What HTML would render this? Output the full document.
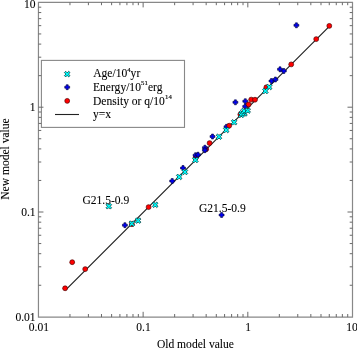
<!DOCTYPE html>
<html><head><meta charset="utf-8"><style>
html,body{margin:0;padding:0;background:#fff;width:357px;height:348px;overflow:hidden}
svg{display:block;will-change:transform;filter:blur(0.35px)}
text{font-family:"Liberation Serif",serif}
</style></head><body>
<svg width="357" height="348" viewBox="0 0 357 348" font-family="Liberation Serif, serif" font-size="12.1" fill="#000">
<style>text{stroke:#000;stroke-width:0.08px}</style>
<path d="M38.45 2.4H352.5V317.1H38.45Z" fill="none" stroke="#888" stroke-width="1.2"/>
<text transform="translate(35.60 8.30) scale(0.955 1)" text-anchor="end">10</text>
<text transform="translate(35.60 111.40) scale(0.955 1)" text-anchor="end">1</text>
<text transform="translate(35.60 216.20) scale(0.955 1)" text-anchor="end">0.1</text>
<text transform="translate(35.60 321.00) scale(0.955 1)" text-anchor="end">0.01</text>
<text transform="translate(351.90 331.40) scale(0.955 1)" text-anchor="middle">10</text>
<text transform="translate(248.22 331.40) scale(0.955 1)" text-anchor="middle">1</text>
<text transform="translate(143.53 331.40) scale(0.955 1)" text-anchor="middle">0.1</text>
<text transform="translate(38.85 331.40) scale(0.955 1)" text-anchor="middle">0.01</text>
<text transform="translate(195.40 347.80) scale(0.955 1)" text-anchor="middle">Old model value</text>
<text transform="translate(8.70 159.00) rotate(-90) scale(0.955 1)" text-anchor="middle">New model value</text>
<line x1="65.5" y1="290.2" x2="329.3" y2="26.4" stroke="#222" stroke-width="1.2"/>
<text transform="translate(82.40 203.90) scale(0.955 1)">G21.5-0.9</text>
<text transform="translate(198.90 211.90) scale(0.955 1)">G21.5-0.9</text>
<circle cx="206.2" cy="149.2" r="2.45" fill="#f00" stroke="#500" stroke-width="0.7"/>
<circle cx="195.6" cy="157.6" r="2.45" fill="#f00" stroke="#500" stroke-width="0.7"/>
<path d="M295.40 22.85L297.40 22.85L297.40 24.30L298.85 24.30L298.85 26.30L297.40 26.30L297.40 27.75L295.40 27.75L295.40 26.30L293.95 26.30L293.95 24.30L295.40 24.30Z" fill="#0000f4" stroke="#003" stroke-width="0.6"/>
<path d="M279.00 66.85L281.00 66.85L281.00 68.30L282.45 68.30L282.45 70.30L281.00 70.30L281.00 71.75L279.00 71.75L279.00 70.30L277.55 70.30L277.55 68.30L279.00 68.30Z" fill="#0000f4" stroke="#003" stroke-width="0.6"/>
<path d="M282.80 68.55L284.80 68.55L284.80 70.00L286.25 70.00L286.25 72.00L284.80 72.00L284.80 73.45L282.80 73.45L282.80 72.00L281.35 72.00L281.35 70.00L282.80 70.00Z" fill="#0000f4" stroke="#003" stroke-width="0.6"/>
<path d="M270.50 78.55L272.50 78.55L272.50 80.00L273.95 80.00L273.95 82.00L272.50 82.00L272.50 83.45L270.50 83.45L270.50 82.00L269.05 82.00L269.05 80.00L270.50 80.00Z" fill="#0000f4" stroke="#003" stroke-width="0.6"/>
<path d="M274.40 77.05L276.40 77.05L276.40 78.50L277.85 78.50L277.85 80.50L276.40 80.50L276.40 81.95L274.40 81.95L274.40 80.50L272.95 80.50L272.95 78.50L274.40 78.50Z" fill="#0000f4" stroke="#003" stroke-width="0.6"/>
<path d="M234.40 99.85L236.40 99.85L236.40 101.30L237.85 101.30L237.85 103.30L236.40 103.30L236.40 104.75L234.40 104.75L234.40 103.30L232.95 103.30L232.95 101.30L234.40 101.30Z" fill="#0000f4" stroke="#003" stroke-width="0.6"/>
<path d="M244.30 98.75L246.30 98.75L246.30 100.20L247.75 100.20L247.75 102.20L246.30 102.20L246.30 103.65L244.30 103.65L244.30 102.20L242.85 102.20L242.85 100.20L244.30 100.20Z" fill="#0000f4" stroke="#003" stroke-width="0.6"/>
<path d="M244.20 104.05L246.20 104.05L246.20 105.50L247.65 105.50L247.65 107.50L246.20 107.50L246.20 108.95L244.20 108.95L244.20 107.50L242.75 107.50L242.75 105.50L244.20 105.50Z" fill="#0000f4" stroke="#003" stroke-width="0.6"/>
<path d="M225.50 124.35L227.50 124.35L227.50 125.80L228.95 125.80L228.95 127.80L227.50 127.80L227.50 129.25L225.50 129.25L225.50 127.80L224.05 127.80L224.05 125.80L225.50 125.80Z" fill="#0000f4" stroke="#003" stroke-width="0.6"/>
<path d="M211.50 134.05L213.50 134.05L213.50 135.50L214.95 135.50L214.95 137.50L213.50 137.50L213.50 138.95L211.50 138.95L211.50 137.50L210.05 137.50L210.05 135.50L211.50 135.50Z" fill="#0000f4" stroke="#003" stroke-width="0.6"/>
<path d="M203.90 145.25L205.90 145.25L205.90 146.70L207.35 146.70L207.35 148.70L205.90 148.70L205.90 150.15L203.90 150.15L203.90 148.70L202.45 148.70L202.45 146.70L203.90 146.70Z" fill="#0000f4" stroke="#003" stroke-width="0.6"/>
<path d="M203.90 147.75L205.90 147.75L205.90 149.20L207.35 149.20L207.35 151.20L205.90 151.20L205.90 152.65L203.90 152.65L203.90 151.20L202.45 151.20L202.45 149.20L203.90 149.20Z" fill="#0000f4" stroke="#003" stroke-width="0.6"/>
<path d="M194.60 152.75L196.60 152.75L196.60 154.20L198.05 154.20L198.05 156.20L196.60 156.20L196.60 157.65L194.60 157.65L194.60 156.20L193.15 156.20L193.15 154.20L194.60 154.20Z" fill="#0000f4" stroke="#003" stroke-width="0.6"/>
<path d="M197.00 152.25L199.00 152.25L199.00 153.70L200.45 153.70L200.45 155.70L199.00 155.70L199.00 157.15L197.00 157.15L197.00 155.70L195.55 155.70L195.55 153.70L197.00 153.70Z" fill="#0000f4" stroke="#003" stroke-width="0.6"/>
<path d="M182.00 165.55L184.00 165.55L184.00 167.00L185.45 167.00L185.45 169.00L184.00 169.00L184.00 170.45L182.00 170.45L182.00 169.00L180.55 169.00L180.55 167.00L182.00 167.00Z" fill="#0000f4" stroke="#003" stroke-width="0.6"/>
<path d="M171.20 178.55L173.20 178.55L173.20 180.00L174.65 180.00L174.65 182.00L173.20 182.00L173.20 183.45L171.20 183.45L171.20 182.00L169.75 182.00L169.75 180.00L171.20 180.00Z" fill="#0000f4" stroke="#003" stroke-width="0.6"/>
<path d="M123.90 222.75L125.90 222.75L125.90 224.20L127.35 224.20L127.35 226.20L125.90 226.20L125.90 227.65L123.90 227.65L123.90 226.20L122.45 226.20L122.45 224.20L123.90 224.20Z" fill="#0000f4" stroke="#003" stroke-width="0.6"/>
<path d="M220.60 212.55L222.60 212.55L222.60 214.00L224.05 214.00L224.05 216.00L222.60 216.00L222.60 217.45L220.60 217.45L220.60 216.00L219.15 216.00L219.15 214.00L220.60 214.00Z" fill="#0000f4" stroke="#003" stroke-width="0.6"/>
<circle cx="329.3" cy="25.9" r="2.45" fill="#f00" stroke="#500" stroke-width="0.7"/>
<circle cx="316.2" cy="39.1" r="2.45" fill="#f00" stroke="#500" stroke-width="0.7"/>
<circle cx="291.2" cy="64.4" r="2.45" fill="#f00" stroke="#500" stroke-width="0.7"/>
<circle cx="266.4" cy="87.3" r="2.45" fill="#f00" stroke="#500" stroke-width="0.7"/>
<circle cx="251.2" cy="99.6" r="2.45" fill="#f00" stroke="#500" stroke-width="0.7"/>
<circle cx="255.0" cy="99.7" r="2.45" fill="#f00" stroke="#500" stroke-width="0.7"/>
<circle cx="248.6" cy="104.5" r="2.45" fill="#f00" stroke="#500" stroke-width="0.7"/>
<circle cx="240.4" cy="114.4" r="2.45" fill="#f00" stroke="#500" stroke-width="0.7"/>
<circle cx="229.2" cy="125.7" r="2.45" fill="#f00" stroke="#500" stroke-width="0.7"/>
<circle cx="209.6" cy="143.1" r="2.45" fill="#f00" stroke="#500" stroke-width="0.7"/>
<circle cx="148.6" cy="207.1" r="2.45" fill="#f00" stroke="#500" stroke-width="0.7"/>
<circle cx="131.9" cy="224.2" r="2.45" fill="#f00" stroke="#500" stroke-width="0.7"/>
<circle cx="85.2" cy="269.1" r="2.45" fill="#f00" stroke="#500" stroke-width="0.7"/>
<circle cx="72.2" cy="262.2" r="2.45" fill="#f00" stroke="#500" stroke-width="0.7"/>
<circle cx="65.1" cy="288.3" r="2.45" fill="#f00" stroke="#500" stroke-width="0.7"/>
<path d="M266.40 85.50L267.70 84.20L269.20 85.70L270.70 84.20L272.00 85.50L270.50 87.00L272.00 88.50L270.70 89.80L269.20 88.30L267.70 89.80L266.40 88.50L267.90 87.00Z" fill="#0ff" stroke="#033" stroke-width="0.75"/>
<path d="M262.60 89.50L263.90 88.20L265.40 89.70L266.90 88.20L268.20 89.50L266.70 91.00L268.20 92.50L266.90 93.80L265.40 92.30L263.90 93.80L262.60 92.50L264.10 91.00Z" fill="#0ff" stroke="#033" stroke-width="0.75"/>
<path d="M241.70 112.00L243.00 110.70L244.50 112.20L246.00 110.70L247.30 112.00L245.80 113.50L247.30 115.00L246.00 116.30L244.50 114.80L243.00 116.30L241.70 115.00L243.20 113.50Z" fill="#0ff" stroke="#033" stroke-width="0.75"/>
<path d="M238.50 113.40L239.80 112.10L241.30 113.60L242.80 112.10L244.10 113.40L242.60 114.90L244.10 116.40L242.80 117.70L241.30 116.20L239.80 117.70L238.50 116.40L240.00 114.90Z" fill="#0ff" stroke="#033" stroke-width="0.75"/>
<path d="M239.20 111.80L240.50 110.50L242.00 112.00L243.50 110.50L244.80 111.80L243.30 113.30L244.80 114.80L243.50 116.10L242.00 114.60L240.50 116.10L239.20 114.80L240.70 113.30Z" fill="#0ff" stroke="#033" stroke-width="0.75"/>
<path d="M241.20 109.50L242.50 108.20L244.00 109.70L245.50 108.20L246.80 109.50L245.30 111.00L246.80 112.50L245.50 113.80L244.00 112.30L242.50 113.80L241.20 112.50L242.70 111.00Z" fill="#0ff" stroke="#033" stroke-width="0.75"/>
<path d="M244.90 109.10L246.20 107.80L247.70 109.30L249.20 107.80L250.50 109.10L249.00 110.60L250.50 112.10L249.20 113.40L247.70 111.90L246.20 113.40L244.90 112.10L246.40 110.60Z" fill="#0ff" stroke="#033" stroke-width="0.75"/>
<path d="M231.30 120.80L232.60 119.50L234.10 121.00L235.60 119.50L236.90 120.80L235.40 122.30L236.90 123.80L235.60 125.10L234.10 123.60L232.60 125.10L231.30 123.80L232.80 122.30Z" fill="#0ff" stroke="#033" stroke-width="0.75"/>
<path d="M223.40 128.50L224.70 127.20L226.20 128.70L227.70 127.20L229.00 128.50L227.50 130.00L229.00 131.50L227.70 132.80L226.20 131.30L224.70 132.80L223.40 131.50L224.90 130.00Z" fill="#0ff" stroke="#033" stroke-width="0.75"/>
<path d="M216.20 135.20L217.50 133.90L219.00 135.40L220.50 133.90L221.80 135.20L220.30 136.70L221.80 138.20L220.50 139.50L219.00 138.00L217.50 139.50L216.20 138.20L217.70 136.70Z" fill="#0ff" stroke="#033" stroke-width="0.75"/>
<path d="M192.60 158.50L193.90 157.20L195.40 158.70L196.90 157.20L198.20 158.50L196.70 160.00L198.20 161.50L196.90 162.80L195.40 161.30L193.90 162.80L192.60 161.50L194.10 160.00Z" fill="#0ff" stroke="#033" stroke-width="0.75"/>
<path d="M182.10 170.50L183.40 169.20L184.90 170.70L186.40 169.20L187.70 170.50L186.20 172.00L187.70 173.50L186.40 174.80L184.90 173.30L183.40 174.80L182.10 173.50L183.60 172.00Z" fill="#0ff" stroke="#033" stroke-width="0.75"/>
<path d="M176.40 175.40L177.70 174.10L179.20 175.60L180.70 174.10L182.00 175.40L180.50 176.90L182.00 178.40L180.70 179.70L179.20 178.20L177.70 179.70L176.40 178.40L177.90 176.90Z" fill="#0ff" stroke="#033" stroke-width="0.75"/>
<path d="M152.40 203.30L153.70 202.00L155.20 203.50L156.70 202.00L158.00 203.30L156.50 204.80L158.00 206.30L156.70 207.60L155.20 206.10L153.70 207.60L152.40 206.30L153.90 204.80Z" fill="#0ff" stroke="#033" stroke-width="0.75"/>
<path d="M135.30 219.10L136.60 217.80L138.10 219.30L139.60 217.80L140.90 219.10L139.40 220.60L140.90 222.10L139.60 223.40L138.10 221.90L136.60 223.40L135.30 222.10L136.80 220.60Z" fill="#0ff" stroke="#033" stroke-width="0.75"/>
<path d="M129.00 222.10L130.30 220.80L131.80 222.30L133.30 220.80L134.60 222.10L133.10 223.60L134.60 225.10L133.30 226.40L131.80 224.90L130.30 226.40L129.00 225.10L130.50 223.60Z" fill="#0ff" stroke="#033" stroke-width="0.75"/>
<path d="M106.00 204.80L107.30 203.50L108.80 205.00L110.30 203.50L111.60 204.80L110.10 206.30L111.60 207.80L110.30 209.10L108.80 207.60L107.30 209.10L106.00 207.80L107.50 206.30Z" fill="#0ff" stroke="#033" stroke-width="0.75"/>
<rect x="41.4" y="60.4" width="143.1" height="67" fill="#fff" stroke="#888" stroke-width="1.1"/>
<path d="M69.96 317.1v-3.0999999999999996M69.96 2.4v2.8M38.45 285.25h2.8M352.5 285.25h-2.8M88.40 317.1v-3.0999999999999996M88.40 2.4v2.8M38.45 266.80h2.8M352.5 266.80h-2.8M101.48 317.1v-3.0999999999999996M101.48 2.4v2.8M38.45 253.70h2.8M352.5 253.70h-2.8M111.62 317.1v-3.0999999999999996M111.62 2.4v2.8M38.45 243.55h2.8M352.5 243.55h-2.8M119.91 317.1v-3.0999999999999996M119.91 2.4v2.8M38.45 235.25h2.8M352.5 235.25h-2.8M126.92 317.1v-3.0999999999999996M126.92 2.4v2.8M38.45 228.23h2.8M352.5 228.23h-2.8M132.99 317.1v-3.0999999999999996M132.99 2.4v2.8M38.45 222.16h2.8M352.5 222.16h-2.8M138.34 317.1v-3.0999999999999996M138.34 2.4v2.8M38.45 216.80h2.8M352.5 216.80h-2.8M143.13 317.1v-5.3M143.13 2.4v5M38.45 212.00h5M352.5 212.00h-5M174.65 317.1v-3.0999999999999996M174.65 2.4v2.8M38.45 180.45h2.8M352.5 180.45h-2.8M193.08 317.1v-3.0999999999999996M193.08 2.4v2.8M38.45 162.00h2.8M352.5 162.00h-2.8M206.16 317.1v-3.0999999999999996M206.16 2.4v2.8M38.45 148.90h2.8M352.5 148.90h-2.8M216.30 317.1v-3.0999999999999996M216.30 2.4v2.8M38.45 138.75h2.8M352.5 138.75h-2.8M224.59 317.1v-3.0999999999999996M224.59 2.4v2.8M38.45 130.45h2.8M352.5 130.45h-2.8M231.60 317.1v-3.0999999999999996M231.60 2.4v2.8M38.45 123.43h2.8M352.5 123.43h-2.8M237.67 317.1v-3.0999999999999996M237.67 2.4v2.8M38.45 117.36h2.8M352.5 117.36h-2.8M243.03 317.1v-3.0999999999999996M243.03 2.4v2.8M38.45 112.00h2.8M352.5 112.00h-2.8M247.82 317.1v-5.3M247.82 2.4v5M38.45 107.20h5M352.5 107.20h-5M279.33 317.1v-3.0999999999999996M279.33 2.4v2.8M38.45 75.65h2.8M352.5 75.65h-2.8M297.76 317.1v-3.0999999999999996M297.76 2.4v2.8M38.45 57.20h2.8M352.5 57.20h-2.8M310.84 317.1v-3.0999999999999996M310.84 2.4v2.8M38.45 44.10h2.8M352.5 44.10h-2.8M320.99 317.1v-3.0999999999999996M320.99 2.4v2.8M38.45 33.95h2.8M352.5 33.95h-2.8M329.28 317.1v-3.0999999999999996M329.28 2.4v2.8M38.45 25.65h2.8M352.5 25.65h-2.8M336.28 317.1v-3.0999999999999996M336.28 2.4v2.8M38.45 18.63h2.8M352.5 18.63h-2.8M342.36 317.1v-3.0999999999999996M342.36 2.4v2.8M38.45 12.56h2.8M352.5 12.56h-2.8M347.71 317.1v-3.0999999999999996M347.71 2.4v2.8M38.45 7.20h2.8M352.5 7.20h-2.8" stroke="#6a6a6a" stroke-width="1" fill="none"/>
<path d="M64.40 72.60L65.70 71.30L67.20 72.80L68.70 71.30L70.00 72.60L68.50 74.10L70.00 75.60L68.70 76.90L67.20 75.40L65.70 76.90L64.40 75.60L65.90 74.10Z" fill="#0ff" stroke="#033" stroke-width="0.75"/>
<path d="M66.20 84.75L68.20 84.75L68.20 86.20L69.65 86.20L69.65 88.20L68.20 88.20L68.20 89.65L66.20 89.65L66.20 88.20L64.75 88.20L64.75 86.20L66.20 86.20Z" fill="#0000f4" stroke="#003" stroke-width="0.6"/>
<circle cx="67.2" cy="100.9" r="2.45" fill="#f00" stroke="#500" stroke-width="0.7"/>
<line x1="55" y1="114.5" x2="79" y2="114.5" stroke="#222" stroke-width="1.1"/>
<text transform="translate(93.20 77.30) scale(0.955 1)">Age/10<tspan font-size="7.1" dy="-5.5" letter-spacing="0.3" style="stroke-width:0.15px">4</tspan><tspan dy="5.5" dx="-0.3">yr</tspan></text>
<text transform="translate(93.00 90.90) scale(0.955 1)">Energy/10<tspan font-size="7.1" dy="-5.5" letter-spacing="0.3" style="stroke-width:0.15px">51</tspan><tspan dy="5.5" dx="-0.3">erg</tspan></text>
<text transform="translate(93.00 104.60) scale(0.955 1)">Density or q/10<tspan font-size="7.1" dy="-5.5" letter-spacing="0.3" style="stroke-width:0.15px">14</tspan></text>
<text transform="translate(93.00 118.20) scale(0.955 1)">y=x</text>
</svg>
</body></html>
